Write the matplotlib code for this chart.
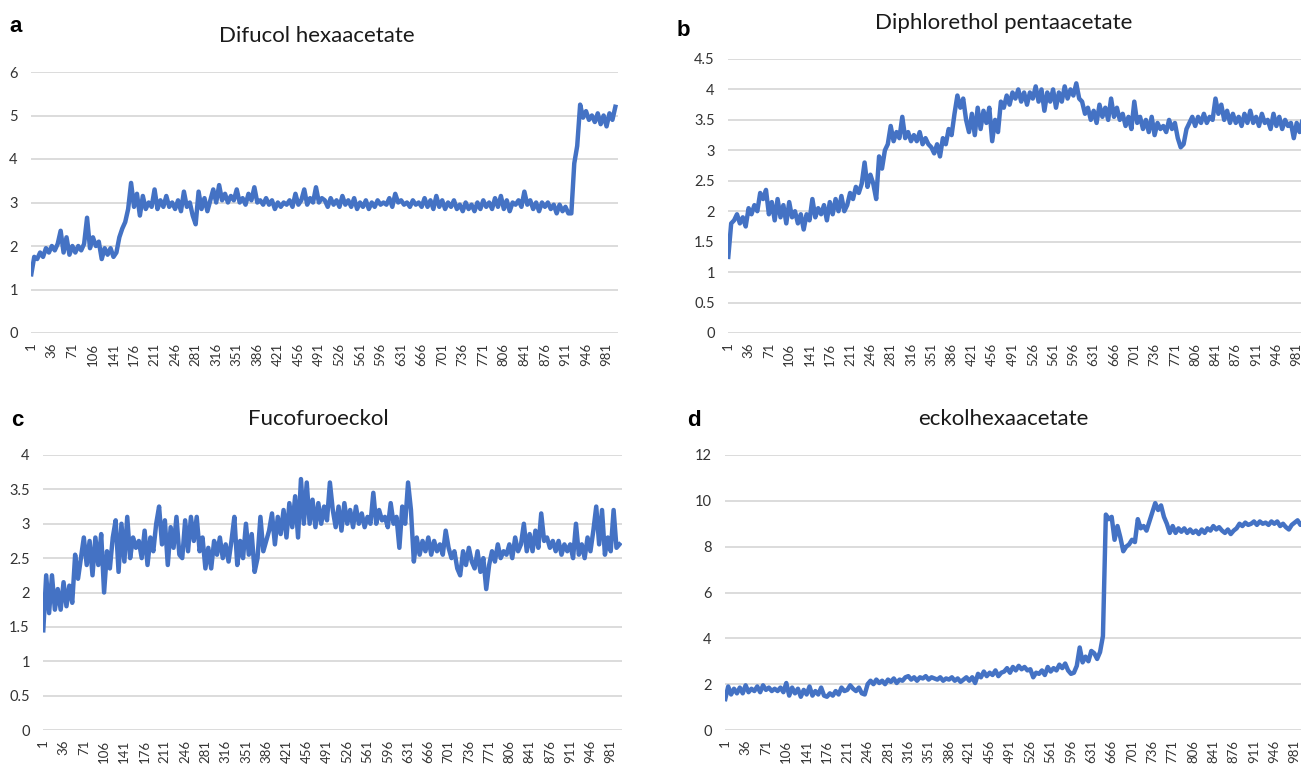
import numpy as np
import matplotlib
matplotlib.use("Agg")
from matplotlib import pyplot as plt

# sample index (x axis categories), one reading every 5 samples
sample_idx = list(range(1, 1001, 5))
tick_labels = list(range(1, 1001, 35))

difucol = [
    1.35, 1.75, 1.7, 1.85, 1.75, 1.95, 1.85, 2.0, 1.9, 2.05,
    2.35, 1.85, 2.2, 1.8, 2.0, 1.85, 2.0, 1.9, 2.05, 2.65,
    1.95, 2.2, 2.0, 2.1, 1.7, 1.95, 1.8, 1.95, 1.75, 1.85,
    2.2, 2.4, 2.55, 2.85, 3.45, 2.9, 3.2, 2.7, 3.15, 2.85,
    3.0, 2.9, 3.3, 2.85, 3.05, 2.9, 3.15, 2.9, 3.0, 2.85,
    3.05, 2.8, 3.25, 2.9, 3.0, 2.7, 2.5, 3.25, 2.85, 3.1,
    2.8, 3.05, 3.3, 3.0, 3.4, 3.05, 3.2, 3.0, 3.15, 3.05,
    3.3, 3.0, 3.1, 2.95, 3.2, 3.05, 3.35, 3.0, 3.05, 2.95,
    3.1, 2.95, 3.05, 2.85, 3.0, 2.9, 3.0, 2.95, 3.05, 2.9,
    3.2, 2.95, 3.05, 3.3, 2.95, 3.1, 3.0, 3.35, 3.0, 3.1,
    3.05, 2.9, 3.1, 2.95, 3.05, 2.9, 3.15, 2.95, 3.05, 2.9,
    3.1, 2.85, 3.0, 2.9, 3.05, 2.85, 3.0, 2.9, 3.05, 2.95,
    3.0, 2.95, 3.1, 2.9, 3.2, 3.0, 3.05, 2.95, 3.0, 2.9,
    3.05, 2.95, 3.0, 2.9, 3.1, 2.9, 3.05, 2.85, 3.15, 2.9,
    3.05, 2.85, 3.0, 2.9, 3.05, 2.85, 2.95, 2.8, 3.0, 2.85,
    2.95, 2.8, 3.0, 2.85, 3.05, 2.9, 3.0, 2.85, 3.1, 2.9,
    3.15, 2.85, 3.05, 2.8, 3.0, 2.95, 3.05, 2.9, 3.25, 2.95,
    3.05, 2.85, 3.0, 2.8, 3.0, 2.9, 3.0, 2.85, 2.95, 2.75,
    2.95, 2.8, 2.9, 2.75, 2.75, 3.9, 4.3, 5.25, 4.95, 5.1,
    4.9, 5.0, 4.85, 5.05, 4.8, 5.0, 4.75, 5.05, 4.9, 5.2,
]

diphlorethol = [
    1.25, 1.8, 1.85, 1.95, 1.8, 1.9, 1.75, 2.05, 1.95, 2.1,
    2.0, 2.3, 2.2, 2.35, 1.95, 2.15, 1.85, 2.2, 1.9, 2.1,
    1.8, 2.15, 1.9, 2.0, 1.8, 1.95, 1.7, 1.95, 1.85, 2.2,
    1.9, 2.05, 1.95, 2.1, 1.85, 2.15, 1.95, 2.2, 2.0, 2.25,
    2.0, 2.1, 2.3, 2.2, 2.4, 2.3, 2.45, 2.8, 2.4, 2.6,
    2.45, 2.2, 2.9, 2.7, 3.0, 3.1, 3.4, 3.15, 3.3, 3.2,
    3.55, 3.2, 3.3, 3.15, 3.25, 3.15, 3.3, 3.1, 3.2, 3.1,
    3.05, 2.95, 3.1, 2.9, 3.2, 3.1, 3.35, 3.25, 3.6, 3.9,
    3.7, 3.85, 3.5, 3.3, 3.6, 3.25, 3.7, 3.35, 3.65, 3.45,
    3.7, 3.15, 3.5, 3.3, 3.8, 3.7, 3.9, 3.75, 3.95, 3.85,
    4.0, 3.8, 3.95, 3.75, 3.95, 3.85, 4.05, 3.8, 4.0, 3.65,
    3.95, 3.8, 4.0, 3.7, 3.95, 3.8, 4.05, 3.85, 4.0, 3.9,
    4.1, 3.85, 3.8, 3.6, 3.7, 3.5, 3.65, 3.45, 3.75, 3.55,
    3.7, 3.5, 3.85, 3.55, 3.7, 3.5, 3.6, 3.4, 3.55, 3.35,
    3.8, 3.45, 3.55, 3.35, 3.5, 3.3, 3.55, 3.25, 3.45, 3.35,
    3.4, 3.3, 3.5, 3.35, 3.45, 3.2, 3.05, 3.1, 3.35, 3.45,
    3.55, 3.4, 3.55, 3.45, 3.6, 3.45, 3.55, 3.5, 3.85, 3.6,
    3.75, 3.5, 3.65, 3.45, 3.6, 3.45, 3.55, 3.4, 3.6, 3.45,
    3.65, 3.45, 3.55, 3.4, 3.6, 3.45, 3.5, 3.35, 3.6, 3.4,
    3.55, 3.35, 3.5, 3.4, 3.45, 3.2, 3.45, 3.3, 3.5, 3.45,
]

fucofuroeckol = [
    1.45, 2.25, 1.7, 2.25, 1.75, 2.05, 1.75, 2.15, 1.8, 2.1,
    1.85, 2.55, 2.2, 2.5, 2.8, 2.4, 2.75, 2.25, 2.8, 2.4,
    2.85, 2.0, 2.6, 2.35, 2.8, 3.05, 2.3, 3.0, 2.45, 3.1,
    2.5, 2.8, 2.65, 2.75, 2.5, 2.9, 2.4, 2.8, 2.6, 3.0,
    3.25, 2.7, 3.05, 2.4, 2.95, 2.65, 3.1, 2.55, 2.5, 3.05,
    2.6, 3.1, 2.75, 3.1, 2.6, 2.8, 2.35, 2.65, 2.35, 2.75,
    2.55, 2.8, 2.5, 2.7, 2.45, 2.75, 3.1, 2.4, 2.75, 2.5,
    3.0, 2.55, 2.85, 2.3, 2.5, 3.1, 2.6, 2.75, 2.9, 3.15,
    2.7, 3.1, 2.85, 3.2, 2.8, 3.3, 2.95, 3.4, 2.8, 3.65,
    3.0, 3.6, 3.0, 3.35, 2.95, 3.3, 3.0, 3.25, 3.05, 3.6,
    3.2, 2.95, 3.25, 2.9, 3.3, 3.0, 3.2, 2.95, 3.25, 3.0,
    3.15, 2.95, 3.1, 3.0, 3.45, 3.0, 3.2, 3.05, 3.1, 2.95,
    3.3, 3.0, 3.1, 2.65, 3.25, 3.0, 3.6, 3.2, 2.45, 2.8,
    2.55, 2.75, 2.6, 2.8, 2.55, 2.75, 2.6, 2.7, 2.55, 2.9,
    2.65, 2.5, 2.6, 2.35, 2.25, 2.6, 2.4, 2.65, 2.45, 2.35,
    2.6, 2.3, 2.5, 2.05, 2.4, 2.6, 2.45, 2.7, 2.5, 2.6,
    2.55, 2.7, 2.5, 2.8, 2.6, 2.7, 3.0, 2.6, 2.85, 2.6,
    2.9, 2.65, 3.15, 2.75, 2.8, 2.65, 2.75, 2.6, 2.75, 2.55,
    2.7, 2.6, 2.7, 2.5, 3.0, 2.55, 2.7, 2.5, 2.8, 2.6,
    2.9, 3.25, 2.7, 3.2, 2.55, 2.8, 2.6, 3.2, 2.65, 2.7,
]

eckol = [
    1.35, 1.9, 1.55, 1.8, 1.6, 1.85, 1.6, 1.95, 1.65, 1.8,
    1.7, 1.9, 1.65, 1.95, 1.75, 1.85, 1.7, 1.8, 1.7, 1.85,
    1.65, 2.05, 1.5, 1.85, 1.6, 1.8, 1.45, 1.75, 1.55, 1.9,
    1.5, 1.7, 1.55, 1.85, 1.5, 1.45, 1.6, 1.5, 1.7, 1.55,
    1.85, 1.7, 1.75, 1.95, 1.8, 1.7, 1.85, 1.6, 1.55, 2.0,
    2.15, 2.0, 2.2, 2.05, 2.15, 2.0, 2.2, 2.1, 2.25, 2.05,
    2.2, 2.15, 2.3, 2.35, 2.2, 2.3, 2.15, 2.3, 2.25, 2.35,
    2.2, 2.3, 2.25, 2.2, 2.3, 2.15, 2.25, 2.2, 2.3, 2.15,
    2.25, 2.1, 2.2, 2.3, 2.15, 2.3, 2.05, 2.45, 2.3, 2.55,
    2.35, 2.5, 2.4, 2.6, 2.35, 2.5, 2.55, 2.7, 2.5, 2.75,
    2.6, 2.8, 2.65, 2.75, 2.6, 2.65, 2.3, 2.5, 2.45, 2.6,
    2.4, 2.75, 2.55, 2.7, 2.6, 2.85, 2.7, 2.9, 2.6, 2.45,
    2.5, 2.8, 3.6, 2.95, 3.2, 3.0, 3.45, 3.35, 3.1, 3.4,
    4.1, 9.4, 9.2, 9.3, 8.3, 8.9, 8.4, 7.8, 8.0, 8.1,
    8.3, 8.2, 9.2, 8.8, 8.9, 8.7, 9.1, 9.5, 9.9, 9.6,
    9.8, 9.3, 9.0, 8.6, 8.9, 8.6, 8.8, 8.65, 8.8, 8.6,
    8.75, 8.6, 8.7, 8.55, 8.75, 8.6, 8.8, 8.7, 8.9, 8.75,
    8.85, 8.7, 8.6, 8.75, 8.55, 8.7, 8.8, 9.0, 8.9, 9.05,
    8.95, 9.0, 9.1, 8.95, 9.1, 9.0, 9.05, 8.95, 9.1, 9.0,
    9.1, 8.9, 9.0, 8.85, 8.75, 8.95, 9.05, 9.15, 8.95, 9.1,
]

titles = ["Difucol hexaacetate", "Diphlorethol pentaacetate", "Fucofuroeckol", "eckolhexaacetate"]
letters = ["a", "b", "c", "d"]
series = [difucol, diphlorethol, fucofuroeckol, eckol]
y_max = [6, 4.5, 4, 12]
y_step = [1, 0.5, 0.5, 2]

W, H = 1301, 764
fig = plt.figure(figsize=(W / 100, H / 100), dpi=100)

# plot areas in pixels: left, top, right, bottom
boxes = [(31, 72, 618, 333), (728, 59, 1308, 333), (43, 455, 622, 730), (725, 455, 1306, 730)]
title_pos = [(317, 36), (1004, 23), (318, 419), (1003, 419)]
letter_pos = [(9, 27), (677, 31), (11, 420), (687, 421)]

line_color = "#4472C4"
grid_color = "#D9D9D9"
text_color = "#333333"
font = "Lato"

for i in range(4):
    l, t, r, b = boxes[i]
    ax = fig.add_axes([l / W, 1 - b / H, (r - l) / W, (b - t) / H])
    ax.plot(sample_idx, series[i], color=line_color, lw=3.2, solid_joinstyle="round")
    ax.set_xlim(0.5, 1000.5)
    ax.set_ylim(0, y_max[i])
    yt = np.arange(0, y_max[i] + y_step[i] / 2, y_step[i])
    ax.set_yticks(yt)
    ax.set_yticklabels([f"{v:g}" for v in yt], fontname=font, fontsize=10.5, color=text_color)
    ax.set_xticks(tick_labels)
    ax.set_xticklabels([str(v) for v in tick_labels], rotation=90, fontname=font,
                       fontsize=9.5, color=text_color)
    ax.tick_params(axis="y", length=0, pad=9.5)
    ax.tick_params(axis="x", length=0, pad=7)
    ax.grid(axis="y", color=grid_color, lw=1.3)
    ax.set_axisbelow(True)
    for spine in ax.spines.values():
        spine.set_visible(False)

    fig.text(title_pos[i][0] / W, 1 - title_pos[i][1] / H, titles[i], ha="center", va="center",
             fontname=font, fontsize=16, color="#1a1a1a")
    fig.text(letter_pos[i][0] / W, 1 - letter_pos[i][1] / H, letters[i], ha="left", va="center",
             fontname="Liberation Sans", fontweight="bold", fontsize=16)

plt.savefig("out.png", dpi=100)
plt.close()
